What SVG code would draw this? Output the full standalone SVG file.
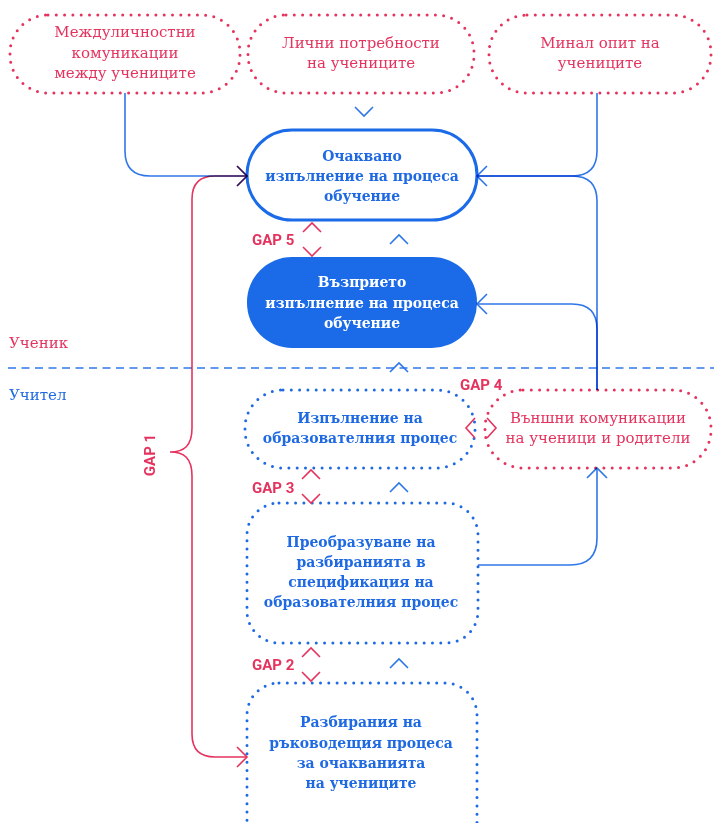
<svg xmlns="http://www.w3.org/2000/svg" width="714" height="823" viewBox="0 0 714 823">
<style>
.t{font-family:"DejaVu Serif","Liberation Serif",serif;font-size:15px;text-anchor:middle}
.b{font-family:"DejaVu Serif Condensed","DejaVu Serif","Liberation Serif",serif;font-stretch:condensed;font-weight:bold;font-size:15.5px}
.pk{fill:#e5335e}
.bl{fill:#1f6ae2}
.wh{fill:#ffffff}
.gap{font-family:Roboto,"Liberation Sans",sans-serif;font-weight:bold;font-size:15px;fill:#e5335e}
.side{font-family:"DejaVu Serif","Liberation Serif",serif;font-size:15px}
.dotp{fill:none;stroke:#e5335e;stroke-width:3;stroke-linecap:round;stroke-dasharray:0 8.3}
.dotb{fill:none;stroke:#1f6ae2;stroke-width:3;stroke-linecap:round;stroke-dasharray:0 8.3}
.solid{fill:#ffffff;stroke:#1b6be8;stroke-width:3}
.filled{fill:#1b6be8}
.cb{fill:none;stroke:#2f77e8;stroke-width:1.6;mix-blend-mode:multiply}
.cp{fill:none;stroke:#e5335e;stroke-width:1.6;mix-blend-mode:multiply}
.chb{fill:none;stroke:#2f77e8;stroke-width:1.6}
.chp{fill:none;stroke:#e5335e;stroke-width:1.6}
</style>
<defs>
<marker id="ab" markerUnits="userSpaceOnUse" orient="auto-start-reverse" markerWidth="24" markerHeight="24" refX="12" refY="12" viewBox="0 0 24 24" overflow="visible">
<path d="M2,2 L12,12 L2,22" fill="none" stroke="#2f77e8" stroke-width="1.6"/>
</marker>
<marker id="ap" markerUnits="userSpaceOnUse" orient="auto-start-reverse" markerWidth="24" markerHeight="24" refX="12" refY="12" viewBox="0 0 24 24" overflow="visible">
<path d="M2,2 L12,12 L2,22" fill="none" stroke="#e5335e" stroke-width="1.6"/>
</marker>
</defs>
<rect width="714" height="823" fill="#ffffff"/>

<g id="lanes">
<line x1="8" y1="368" x2="714" y2="368" stroke="#2f77e8" stroke-width="1.5" stroke-dasharray="8 5.5"/>
<text class="side pk" x="9" y="348">Ученик</text>
<text class="side bl" x="9" y="400">Учител</text>
</g>

<g id="n-interpersonal">
<rect class="dotp" x="10" y="15" width="230" height="78" rx="38"/>
<text class="t pk" x="125" y="37">Междуличностни</text>
<text class="t pk" x="125" y="57.5">комуникации</text>
<text class="t pk" x="125" y="78">между учениците</text>
</g>
<g id="n-needs">
<rect class="dotp" x="248" y="15" width="226" height="78" rx="38"/>
<text class="t pk" x="361" y="48">Лични потребности</text>
<text class="t pk" x="361" y="68">на учениците</text>
</g>
<g id="n-past">
<rect class="dotp" x="489" y="15" width="222" height="78" rx="38"/>
<text class="t pk" x="600" y="48">Минал опит на</text>
<text class="t pk" x="600" y="68">учениците</text>
</g>

<g id="n-expected">
<rect class="solid" x="247" y="130" width="230" height="90" rx="45"/>
<text class="t b bl" x="362" y="161">Очаквано</text>
<text class="t b bl" x="362" y="181">изпълнение на процеса</text>
<text class="t b bl" x="362" y="201">обучение</text>
</g>
<g id="n-perceived">
<rect class="filled" x="247" y="257" width="230" height="91" rx="45"/>
<text class="t b wh" x="362" y="287">Възприето</text>
<text class="t b wh" x="362" y="307.5">изпълнение на процеса</text>
<text class="t b wh" x="362" y="328">обучение</text>
</g>
<g id="n-delivery">
<rect class="dotb" x="245" y="390" width="230" height="78" rx="38"/>
<text class="t b bl" x="360" y="423">Изпълнение на</text>
<text class="t b bl" x="360" y="443">образователния процес</text>
</g>
<g id="n-external">
<rect class="dotp" x="485" y="390" width="226" height="78" rx="38"/>
<text class="t pk" x="598" y="423">Външни комуникации</text>
<text class="t pk" x="598" y="443">на ученици и родители</text>
</g>
<g id="n-spec">
<rect class="dotb" x="247" y="503" width="231" height="140" rx="32"/>
<text class="t b bl" x="361" y="547">Преобразуване на</text>
<text class="t b bl" x="361" y="567">разбиранията в</text>
<text class="t b bl" x="361" y="587">спецификация на</text>
<text class="t b bl" x="361" y="607">образователния процес</text>
</g>
<g id="n-understanding">
<rect class="dotb" x="247" y="683" width="230" height="170" rx="32"/>
<text class="t b bl" x="361" y="727">Разбирания на</text>
<text class="t b bl" x="361" y="748">ръководещия процеса</text>
<text class="t b bl" x="361" y="768">за очакванията</text>
<text class="t b bl" x="361" y="788">на учениците</text>
</g>

<g id="connectors">
<path class="cb" d="M125,93 L125,151 Q125,176 150,176 L247,176" marker-end="url(#ab)"/>
<path class="cp" d="M247,176 L215,176 Q192,176 192,199 L192,428 C192,446 184,452 170,452 C184,452 192,458 192,476 L192,734 Q192,757 215,757 L247,757" marker-start="url(#ap)" marker-end="url(#ap)"/>
<path class="cb" d="M597,93 L597,151 Q597,176 572,176 L477,176" marker-end="url(#ab)"/>
<path class="cb" d="M597,390 L597,201 Q597,176 572,176 L477,176"/>
<path class="cb" d="M597,390 L597,329 Q597,304 572,304 L477,304" marker-end="url(#ab)"/>
<path class="cb" d="M478,565 L570,565 Q597,565 597,538 L597,468" marker-end="url(#ab)"/>
</g>

<g id="gaps">
<polyline class="chb" points="355,107 364,116 373,107"/>
<polyline class="chb" points="390,244 399,235 408,244"/>
<polyline class="chb" points="390,372 399,363 408,372"/>
<polyline class="chb" points="390,492 399,483 408,492"/>
<polyline class="chb" points="390,668 399,659 408,668"/>
<polyline class="chp" points="303,232 312,223 321,232"/>
<polyline class="chp" points="303,247 312,256 321,247"/>
<text class="gap" x="252" y="245">GAP 5</text>
<polyline class="chp" points="302,479 311,470 320,479"/>
<polyline class="chp" points="302,494 311,503 320,494"/>
<text class="gap" x="252" y="493">GAP 3</text>
<polyline class="chp" points="302,657 311,648 320,657"/>
<polyline class="chp" points="302,672 311,681 320,672"/>
<text class="gap" x="252" y="670">GAP 2</text>
<polyline class="chp" points="475,418 466,428 475,438"/>
<polyline class="chp" points="487,418 496,428 487,438"/>
<text class="gap" x="460" y="390">GAP 4</text>
<text class="gap" transform="translate(155,455) rotate(-90)" text-anchor="middle">GAP 1</text>
</g>
</svg>
